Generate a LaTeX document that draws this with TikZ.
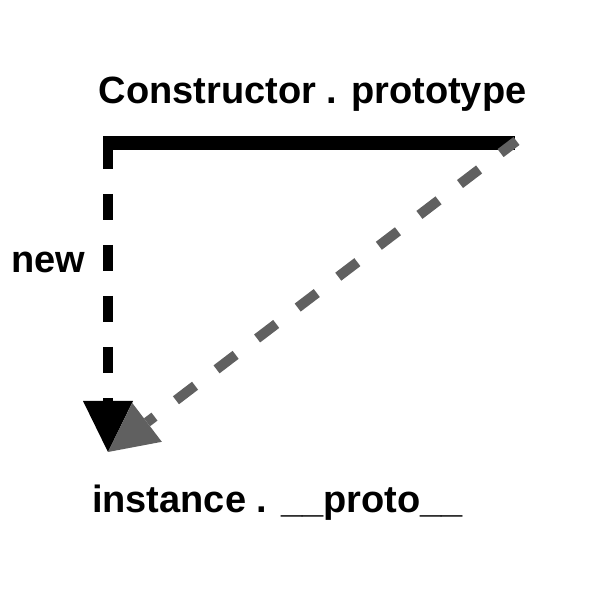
\documentclass[tikz,border=0pt]{standalone}
\usepackage{fontspec}
\setmainfont{Liberation Sans}
\usetikzlibrary{arrows.meta}
\definecolor{arrowgray}{RGB}{96,96,96}
\begin{document}
\begin{tikzpicture}[x=1pt,y=1pt,
  lbl/.style={inner sep=0pt,anchor=base,font=\fontsize{38pt}{40pt}\selectfont\bfseries},
  protoline/.style={line width=14pt},
  newline/.style={line width=10pt,dash pattern=on 26pt off 25pt,-{Triangle[length=51pt,width=50pt,line width=0pt]}},
  linkline/.style={arrowgray,line width=10pt,dash pattern=on 24pt off 27pt,dash phase=4pt,-{Triangle[length=49pt,width=49pt,line width=0pt]}}]
\useasboundingbox (0,0) rectangle (600,600);
\node[lbl] (ctor) at (312.5,496) {Constructor . prototype};
\node[lbl] (inst) at (277.5,87) {instance . \_\_proto\_\_};
\node[lbl] (new) at (48,327) {new};
\coordinate (hl) at (103,457);
\coordinate (hr) at (515,457);
\coordinate (corner) at (108,457);
\coordinate (gs) at (516.5,459);
\coordinate (tip) at (108,148);
\draw[protoline] (hl) -- (hr);
\draw[newline] (corner) -- (tip);
\draw[linkline] (gs) -- (tip);
\end{tikzpicture}
\end{document}
